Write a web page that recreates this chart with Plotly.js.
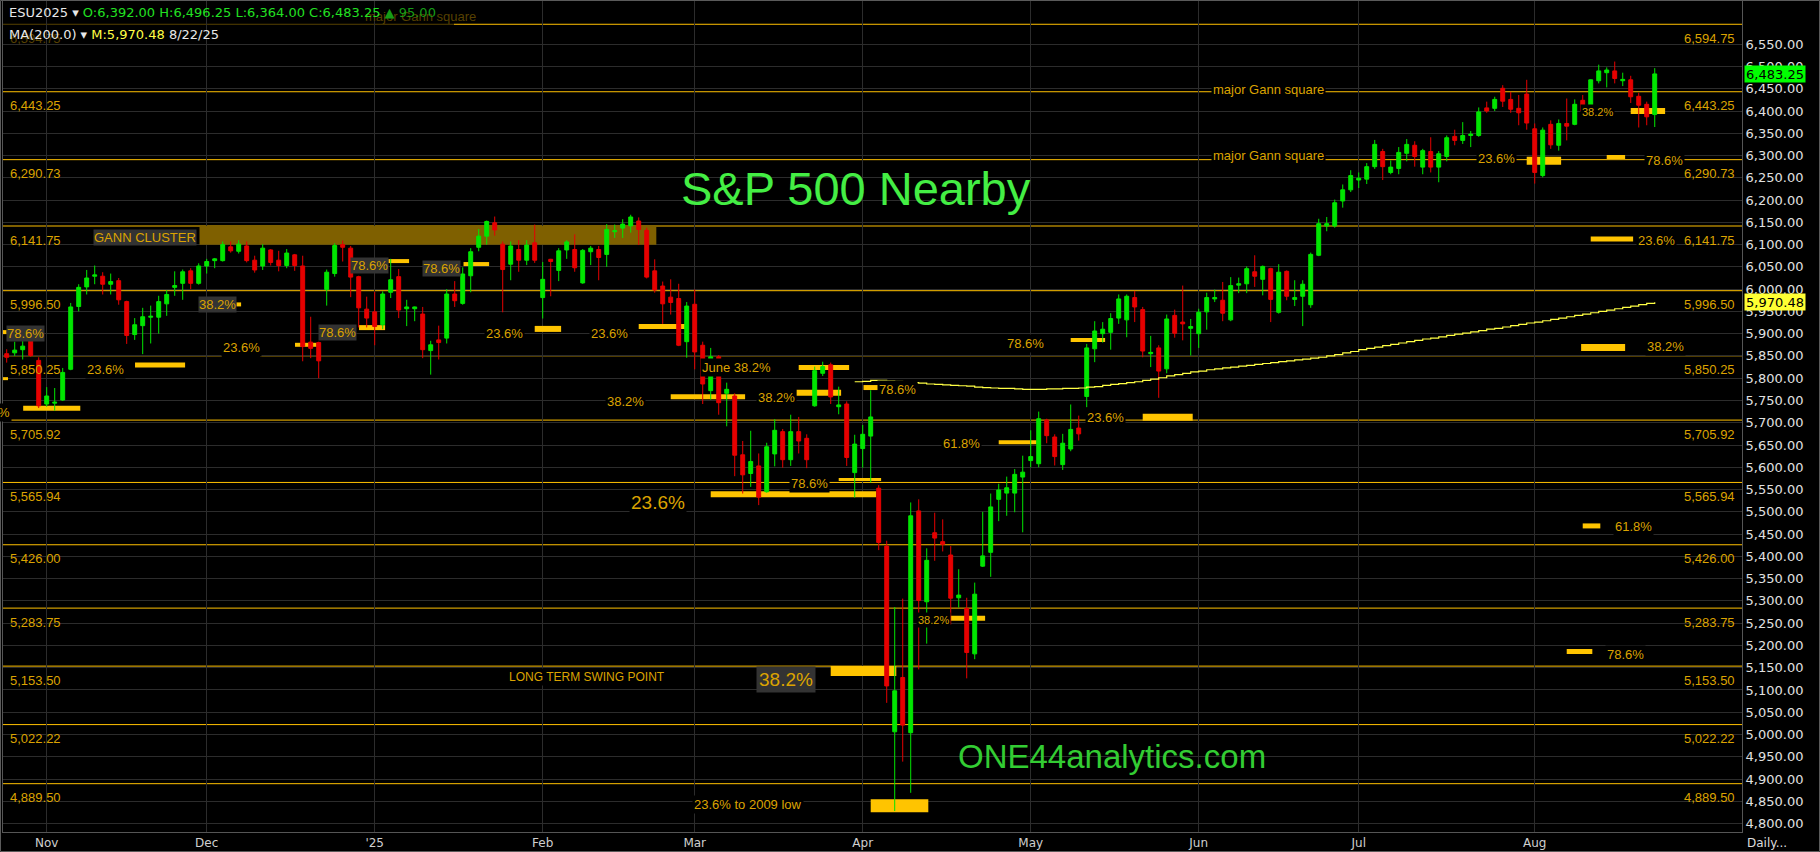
<!DOCTYPE html>
<html><head><meta charset="utf-8">
<script src="https://cdn.plot.ly/plotly-3.0.1.min.js"></script>
<style>html,body{margin:0;padding:0;background:#000;overflow:hidden}#chart{width:1820px;height:852px}</style>
</head><body><div id="chart"></div>
<script>
// ---------------- DATA ----------------
const firstSession = '2024-10-25';
const lastSession = '2025-08-22';
const closedDays = ['2024-11-28','2024-12-25','2025-01-01','2025-01-20','2025-02-17','2025-04-18','2025-05-26','2025-06-19','2025-07-04'];

const openP = [5855,5857,5864,5886,5840,5742,5744,5751,5820,5961,6005,6029,6029,6011,6019,5972,5898,5918,5937,5937,5967,6004,6013,6041,6013,
6052,6064,6064,6095,6085,6097,6065,6052,6088,6065,6053,6077,6052,5881,5880,5999,6035,6100,6092,6028,5955,
5949,5920,5993,6028,5956,5956,5944,5862,5886,5890,5989,5968,6030,6094,6119,6149,6101,6056,6089,6065,6104,
5981,6067,6042,6088,6089,6014,6084,6089,6078,6129,6137,6142,6153,6132,6041,6007,5982,5979,5882,
5966,5874,5772,5848,5766,5760,5628,5586,5603,5545,5630,5680,5617,5680,5665,5738,5811,5830,5736,5742,5588,
5642,5670,5553,5423,5006,5128,5004,5502,5298,5453,5433,5403,5307,5283,5181,5378,5409,5528,5542,5542,5578,
5615,5608,5706,5668,5606,5641,5688,5759,5866,5900,5903,5935,5931,5981,5954,5855,5868,5821,5941,5926,5912,
5900,5949,5978,5975,5931,6009,6012,6039,6022,6046,5948,6040,5977,5984,5965,6076,6142,6142,6198,6223,
6245,6247,6275,6309,6262,6271,6305,6323,6274,6309,6274,6298,6343,6334,6345,6345,6407,6406,6451,6426,6406,6438,
6360,6255,6370,6323,6372,6370,6424,6396,6468,6486,6490,6468,6470,6433,6415,6392];
const highP = [5865,5882,5885,5890,5847,5780,5778,5823,5969,6011,6043,6053,6038,6035,6025,5974,5935,5958,5963,5985,5998,6040,6044,6047,6058,
6068,6070,6107,6107,6110,6107,6075,6101,6090,6086,6090,6079,6075,5938,5882,6044,6103,6109,6097,6030,5983,
5994,5995,6068,6045,5976,5961,5960,5884,5918,6000,6018,6049,6092,6135,6154,6163,6107,6107,6110,6110,6145,
6061,6068,6092,6110,6123,6090,6097,6097,6146,6145,6157,6167,6161,6138,6067,6017,6022,6012,5971,
5999,5882,5868,5852,5790,5766,5659,5682,5631,5655,5708,5686,5718,5713,5674,5826,5837,5835,5781,5748,5673,
5695,5773,5560,5435,5286,5305,5521,5528,5418,5498,5483,5423,5371,5307,5341,5500,5541,5563,5579,5596,5626,
5683,5725,5709,5674,5675,5741,5716,5877,5928,5926,5946,5988,5988,5996,5960,5895,5874,5943,5954,6008,5933,
5956,5992,5999,6016,6027,6026,6051,6076,6053,6048,6056,6042,6020,6020,6082,6158,6162,6201,6235,6267,
6262,6283,6335,6315,6289,6319,6337,6332,6315,6341,6310,6345,6358,6375,6355,6408,6421,6432,6458,6443,6436,6470,
6372,6363,6379,6381,6428,6426,6436,6471,6504,6498,6511,6486,6479,6441,6421,6496.25];
const lowP = [5835,5850,5842,5848,5733,5736,5727,5749,5818,5950,5988,6011,5988,5988,5965,5877,5886,5854,5878,5900,5940,5985,5976,6000,6010,
6035,6047,6062,6082,6080,6060,6037,6043,6053,6040,6047,6041,5838,5845,5800,5963,6028,6062,5982,5914,5914,
5874,5910,5980,5935,5917,5928,5845,5808,5842,5878,5960,5965,5993,6085,6100,6120,5948,6020,6039,6054,6059,
5934,5984,6018,6068,6039,6012,6054,6020,6050,6115,6115,6127,6099,6024,5992,5922,5943,5872,5846,
5820,5742,5752,5718,5692,5580,5541,5556,5515,5543,5602,5599,5603,5631,5598,5736,5805,5742,5719,5603,5532,
5599,5566,5414,5071,4828,4939,4869,5146,5204,5390,5411,5247,5285,5126,5169,5376,5354,5479,5491,5499,5454,
5600,5600,5654,5604,5594,5636,5660,5735,5836,5880,5864,5922,5892,5926,5847,5825,5756,5811,5891,5885,5851,
5868,5909,5971,5928,5928,5991,5991,6005,5986,5926,5945,5975,5962,5917,5958,6074,6130,6138,6183,6218,
6227,6236,6270,6245,6258,6258,6287,6275,6258,6262,6240,6287,6323,6326,6319,6342,6396,6400,6409,6396,6368,6358,
6237,6251,6315,6311,6334,6368,6388,6393,6462,6453,6462,6456,6418,6363,6368,6364];
const closeP = [5847,5863,5872,5851,5738,5760,5746,5813,5960,6004,6025,6032,6011,6017,5976,5896,5920,5938,5939,5972,5988,6008,6039,6013,6052,
6062,6068,6100,6086,6101,6064,6043,6092,6060,6053,6081,6053,5871,5867,5839,6038,6098,6094,6027,5958,5935,
5916,5989,6021,5953,5960,5960,5864,5875,5880,5989,5974,6034,6084,6119,6152,6133,6044,6097,6065,6099,6065,
6022,6062,6086,6106,6048,6087,6092,6071,6134,6131,6146,6162,6134,6027,5998,5967,5970,5874,5962,
5859,5787,5848,5745,5775,5627,5583,5613,5533,5646,5683,5617,5680,5659,5617,5817,5826,5758,5740,5622,5652,
5674,5713,5431,5109,5098,5021,5491,5301,5391,5441,5427,5306,5313,5184,5315,5401,5511,5549,5554,5584,5589,
5624,5709,5671,5624,5654,5685,5675,5868,5906,5910,5934,5978,5984,5960,5861,5858,5816,5933,5901,5922,5916,
5948,5981,5981,5946,6008,6012,6046,6029,6051,5977,6038,5984,5981,6011,6078,6147,6147,6194,6223,6255,
6249,6275,6325,6275,6274,6307,6325,6298,6311,6274,6304,6340,6334,6345,6348,6398,6400,6426,6422,6404,6396,6373,
6262,6357,6324,6372,6366,6415,6400,6470,6490,6492,6473,6471,6432,6413,6387,6483.25];

// 200-day moving average (visible from session index 106 onward)
const maFirstIndex = 106;
const ma200 = [5792,5793,5795,5795,5794,5793,5791,5790,5789,5787,5786,5785,5784,5783,5782,5780,5779,5778,5777,5777,
5776,5775,5775,5775,5776,5776,5777,5777,5778,5780,5781,5784,5786,5788,5790,5792,5795,5798,5801,5805,
5808,5811,5814,5816,5819,5821,5823,5825,5827,5829,5831,5833,5835,5837,5839,5841,5843,5845,5847,5850,
5853,5857,5860,5864,5867,5870,5873,5876,5879,5882,5885,5888,5890,5893,5896,5899,5901,5904,5907,5910,
5912,5915,5918,5921,5924,5926,5929,5932,5935,5938,5941,5944,5947,5950,5953,5956,5959,5962,5965,5968,5970.48];

const monthTickDates = ['2024-11-01','2024-12-02','2025-01-02','2025-02-03','2025-03-03','2025-04-01','2025-05-01','2025-06-02','2025-07-01','2025-08-01'];
const monthTickLabels = ['Nov','Dec',"'25",'Feb','Mar','Apr','May','Jun','Jul','Aug'];

const gannLevels = [6594.75,6443.25,6290.73,6141.75,5996.50,5850.25,5705.92,5565.94,5426.00,5283.75,5153.50,5022.22,4889.50];
const priceTicks = [4800,4850,4900,4950,5000,5050,5100,5150,5200,5250,5300,5350,5400,5450,5500,5550,5600,5650,5700,5750,5800,5850,5900,5950,6000,6050,6100,6150,6200,6250,6300,6350,6400,6450,6500,6550];

const lastClose = 6483.25;
const lastMA = 5970.48;

// ---------------- helpers ----------------
function buildSessions(a, b, skip) {
  const out = []; const d = new Date(a + 'T00:00:00Z'); const e = new Date(b + 'T00:00:00Z');
  while (d <= e) { const wd = d.getUTCDay(); const s = d.toISOString().slice(0, 10);
    if (wd !== 0 && wd !== 6 && skip.indexOf(s) < 0) out.push(s);
    d.setUTCDate(d.getUTCDate() + 1); }
  return out;
}
const sessions = buildSessions(firstSession, lastSession, closedDays);
const fmt = v => v.toLocaleString('en-US', {minimumFractionDigits: 2, maximumFractionDigits: 2});

// plot geometry (px) for paper conversions
const W = 1820, H = 852, ML = 3, MR = 78, MT = 1, MB = 20;
const PW = W - ML - MR, PH = H - MT - MB;
const px = x => (x - ML) / PW;
const py = y => (H - MB - y) / PH;

const GOLD_LINE = '#ffc000', GOLD_TXT = '#dba300', BAR = '#ffc400', DIM = '#574100';
const LIB = 'Liberation Sans, Arial, sans-serif', DJV = 'DejaVu Sans, Verdana, sans-serif';

// ---------------- traces ----------------
const candles = {
  type: 'candlestick', x: sessions, open: openP, high: highP, low: lowP, close: closeP,
  increasing: {line: {color: '#00e600', width: 1}, fillcolor: '#00e600'},
  decreasing: {line: {color: '#e60000', width: 1}, fillcolor: '#e60000'},
  whiskerwidth: 0, hoverinfo: 'skip', showlegend: false
};
const maLine = {
  type: 'scatter', mode: 'lines', x: sessions.slice(maFirstIndex, maFirstIndex + ma200.length), y: ma200,
  line: {color: '#ffff44', width: 1.2, shape: 'hv'}, hoverinfo: 'skip', showlegend: false
};

// ---------------- shapes ----------------
const shapes = [];
// Gann cluster band
shapes.push({type: 'rect', xref: 'x', yref: 'y', x0: 24.1, x1: 81.2, y0: 6099.6, y1: 6141.75,
  fillcolor: '#7f6000', line: {width: 0}, layer: 'between'});
// gann level lines
gannLevels.forEach(lv => {
  const base = {type: 'line', xref: 'paper', yref: 'y', y0: lv, y1: lv, line: {color: GOLD_LINE, width: 1}, layer: 'between'};
  if (lv === 6594.75) {
    shapes.push(Object.assign({}, base, {x0: 0, x1: px(454), line: {color: DIM, width: 1}}));
    shapes.push(Object.assign({}, base, {x0: px(454), x1: 1}));
  } else if (lv === 5850.25) {
    shapes.push(Object.assign({}, base, {x0: 0, x1: px(222)}));
    shapes.push(Object.assign({}, base, {x0: px(260), x1: 1}));
  } else {
    shapes.push(Object.assign({}, base, {x0: 0, x1: 1}));
  }
});
// fib marker bars: [startIndex, endIndex, price, thickness px]
const fibBars = [
  [-0.5,0.0,5903.5,4],[-0.5,0.16,5799,3],[2.06,9.2,5732.8,5],[16.04,22.3,5829.4,5],[28.7,29.3,5965.7,4],
  [36.04,38.75,5875,4],[44.04,47.3,5913.6,5],[47.7,50.3,6063,4],[57.1,60.3,6056.3,4],[66.0,69.3,5910.7,6],
  [79.0,84.8,5915.9,5],[83.0,92.3,5758.6,5],[88.0,108.7,5539.5,6],[98.7,104.3,5767.6,6],[99.0,105.3,5824.2,5],
  [107.1,109.0,5779,5],[104.0,109.3,5572.7,3],[124.0,128.75,5656.4,4],[117.9,122.3,5260.9,5],[103.0,111.2,5142.5,10],
  [108.0,115.2,4839.8,13],[133.0,137.3,5885.6,4],[142.0,148.25,5712.5,7],[190.0,194.3,6288.5,8],[200.0,202.3,6296.7,4],
  [203.0,207.3,6400,6],[198.0,203.3,6112.5,5],[196.8,202.3,5869.2,7],[197.0,199.2,5468.3,5],[195.0,198.2,5186.3,5]
];
fibBars.forEach(b => shapes.push({type: 'rect', xref: 'x', yref: 'y', x0: b[0], x1: b[1],
  ysizemode: 'pixel', yanchor: b[2], y0: -b[3] / 2, y1: b[3] / 2, fillcolor: BAR, line: {width: 0}, layer: 'between'}));
// outer frame
shapes.push({type: 'rect', xref: 'paper', yref: 'paper', x0: px(0.5), x1: px(1819.5), y0: py(851.5), y1: py(0.5),
  line: {color: '#5a5a5a', width: 1}, fillcolor: 'rgba(0,0,0,0)', layer: 'above'});

// ---------------- annotations ----------------
const ann = [];
gannLevels.forEach(lv => {
  ann.push({xref: 'paper', yref: 'y', x: px(1737), y: lv, yshift: -14, xanchor: 'right', yanchor: 'middle',
    text: fmt(lv), showarrow: false, font: {family: LIB, size: 13, color: GOLD_TXT}});
  ann.push({xref: 'paper', yref: 'y', x: px(8), y: lv, yshift: -14, xanchor: 'left', yanchor: 'middle',
    text: fmt(lv), showarrow: false, font: {family: LIB, size: 13, color: lv === 6594.75 ? DIM : GOLD_TXT}});
});
// plain labels: [text, index, price, size]
const plainLabels = [
  ['23.6%',12.3,5819,13],['23.6%',29.3,5868,13],['23.6%',62.2,5901,13],['23.6%',75.3,5901,13],
  ['38.2%',77.3,5748,13],['June 38.2%',91.2,5823,13],['38.2%',96.2,5757,13],['78.6%',100.3,5564,13],
  ['78.6%',111.3,5775,13],['61.8%',119.3,5654,13],['38.2%',115.9,5256,11],['78.6%',127.3,5879,13],
  ['23.6%',137.3,5712,13],['23.6%',186.2,6294,13],['78.6%',207.2,6288,13],['38.2%',198.85,6398,11],
  ['23.6%',206.2,6110,13],['38.2%',207.3,5872,13],['61.8%',203.3,5468,13],['78.6%',202.3,5180,13],
  ['23.6%',81.4,5522,19],['major Gann square',157.7,6300,13],['major Gann square',157.7,6449,13],
  ['LONG TERM SWING POINT',72.5,5128,12],['23.6% to 2009 low',92.7,4842,13]
];
plainLabels.forEach(l => ann.push({xref: 'x', yref: 'y', x: l[1], y: l[2], text: l[0], showarrow: false,
  xanchor: 'center', yanchor: 'middle', bgcolor: '#000', borderpad: 1, font: {family: LIB, size: l[3], color: GOLD_TXT}}));
// grey boxed labels
const boxLabels = [
  ['78.6%',2.3,5901,13],['38.2%',26.35,5966.5,13],['78.6%',41.35,5903.5,13],['78.6%',45.3,6054,13],
  ['78.6%',54.35,6047,13],['GANN CLUSTER',17.3,6117,13],['38.2%',97.4,5124,19]
];
boxLabels.forEach(l => ann.push({xref: 'x', yref: 'y', x: l[1], y: l[2], text: l[0], showarrow: false,
  xanchor: 'center', yanchor: 'middle', bgcolor: '#333333', borderpad: l[3] > 15 ? 2 : 0, font: {family: LIB, size: l[3], color: GOLD_TXT}}));
// clipped "%" at left edge
ann.push({xref: 'paper', yref: 'y', x: px(11.6), y: 5724, text: '%', xanchor: 'right', yanchor: 'middle', showarrow: false,
  bgcolor: '#000', font: {family: LIB, size: 13, color: GOLD_TXT}});
// dim label under legend
ann.push({xref: 'paper', yref: 'paper', x: px(420), y: py(16), text: 'major Gann square', showarrow: false,
  xanchor: 'center', yanchor: 'middle', font: {family: LIB, size: 13, color: DIM}});
// legend text
ann.push({xref: 'paper', yref: 'paper', x: px(7), y: py(13), xanchor: 'left', yanchor: 'middle', showarrow: false,
  text: '<span style="color:#e8e8e8">ESU2025 \u25BE </span><span style="color:#22e022">O:' + fmt(openP[openP.length-1]) +
    ' H:' + fmt(highP[highP.length-1]) + ' L:' + fmt(lowP[lowP.length-1]) + ' C:' + fmt(closeP[closeP.length-1]) +
    '</span><span style="color:#169c16"> \u25B2 95.00</span>',
  font: {family: DJV, size: 13, color: '#e8e8e8'}});
ann.push({xref: 'paper', yref: 'paper', x: px(7), y: py(35), xanchor: 'left', yanchor: 'middle', showarrow: false,
  text: '<span style="color:#e8e8e8">MA(200.0) \u25BE </span><span style="color:#ffff44">M:' + fmt(lastMA) +
    '</span><span style="color:#e8e8e8"> 8/22/25</span>', font: {family: DJV, size: 13, color: '#e8e8e8'}});
// titles
ann.push({xref: 'paper', yref: 'paper', x: px(856), y: py(188), text: 'S&P 500 Nearby', showarrow: false,
  xanchor: 'center', yanchor: 'middle', font: {family: LIB, size: 47, color: '#44ee44'}});
ann.push({xref: 'paper', yref: 'paper', x: px(1111.5), y: py(756), text: 'ONE44analytics.com', showarrow: false,
  xanchor: 'center', yanchor: 'middle', font: {family: LIB, size: 33, color: '#33cc33'}});
// price flags on axis
ann.push({xref: 'paper', yref: 'y', x: px(1744), y: lastClose, xanchor: 'left', yanchor: 'middle', showarrow: false,
  text: fmt(lastClose), bgcolor: '#00ff00', borderpad: 1, width: 58, height: 14, font: {family: DJV, size: 13, color: '#000'}});
ann.push({xref: 'paper', yref: 'y', x: px(1744), y: lastMA, xanchor: 'left', yanchor: 'middle', showarrow: false,
  text: fmt(lastMA), bgcolor: '#ffff33', borderpad: 1, width: 58, height: 14, font: {family: DJV, size: 13, color: '#000'}});
ann.push({xref: 'paper', yref: 'paper', x: px(1745), y: py(843), xanchor: 'left', yanchor: 'middle', showarrow: false,
  text: 'Daily...', font: {family: DJV, size: 12, color: '#dddddd'}});

// ---------------- layout ----------------
const layout = {
  width: W, height: H, paper_bgcolor: '#000', plot_bgcolor: '#000',
  margin: {l: ML, r: MR, t: MT, b: MB, pad: 0}, showlegend: false, dragmode: false,
  xaxis: {type: 'category', range: [-0.4625, 216.91], tickvals: monthTickDates, ticktext: monthTickLabels,
    showgrid: true, gridcolor: '#2c2c2c', gridwidth: 1, ticks: '', showline: true, mirror: true, linecolor: '#555',
    zeroline: false, rangeslider: {visible: false}, tickfont: {family: DJV, size: 12, color: '#cfcfcf'}, fixedrange: true},
  yaxis: {side: 'right', range: [4781, 6647], tickvals: priceTicks, ticktext: priceTicks.map(fmt),
    showgrid: true, gridcolor: '#2c2c2c', gridwidth: 1, ticks: '', showline: true, mirror: true, linecolor: '#555',
    zeroline: false, tickfont: {family: DJV, size: 13, color: '#e0e0e0'}, fixedrange: true},
  shapes: shapes, annotations: ann
};
Plotly.newPlot('chart', [candles, maLine], layout, {staticPlot: true, displayModeBar: false});
</script></body></html>
